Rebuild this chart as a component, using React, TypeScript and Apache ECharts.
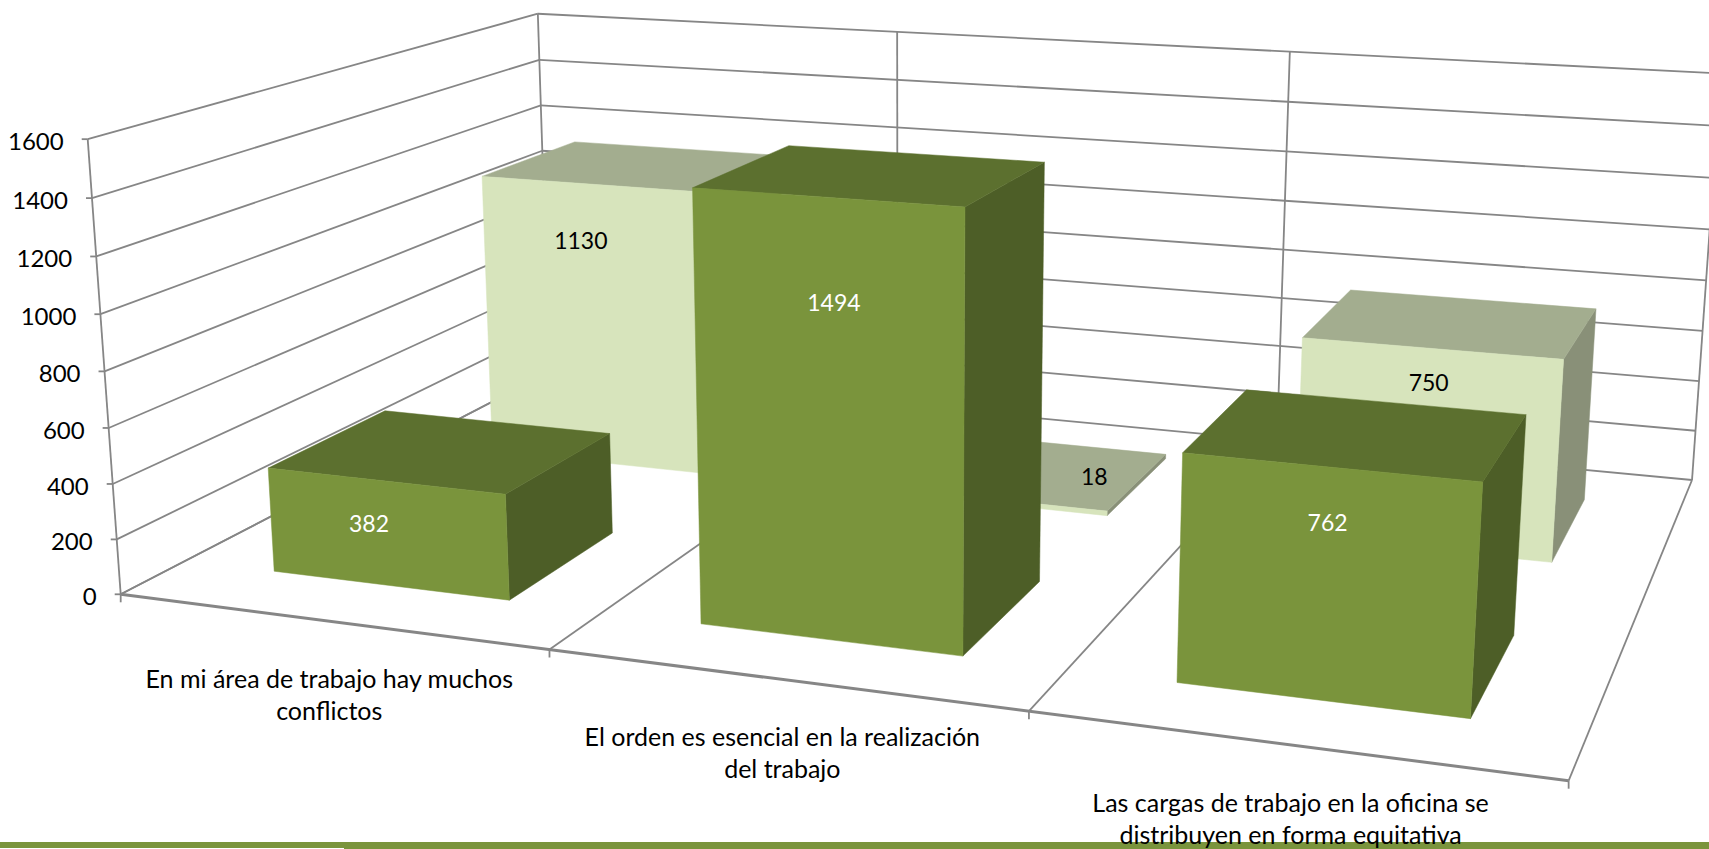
import React, { useEffect, useRef } from "react";
import * as echarts from "echarts";

const categories = [
  "En mi área de trabajo hay muchos\nconflictos",
  "El orden es esencial en la realización\ndel trabajo",
  "Las cargas de trabajo en la oficina se\ndistribuyen en forma equitativa",
];
const frontValues = [382, 1494, 762];
const backValues = [1130, 18, 750];
const yTicks = [0, 200, 400, 600, 800, 1000, 1200, 1400, 1600];
const boundaries = [0, 1, 2, 3];

// Layout constants: perspective of the 3D box (unit cube to page pixels)
const M = {
  a: 1199.2, b: 585.1, p: -36.5, c: 120.7,
  d: 62.6, e: -116.5, q: -460.7, f: 594.3,
  g: -0.15857, h: 0.28444, k: -0.04,
};
const project = (u: number, v: number, t: number): number[] => {
  const w = M.g * u + M.h * v + M.k * t + 1;
  return [
    (M.a * u + M.b * v + M.p * t + M.c) / w,
    (M.d * u + M.e * v + M.q * t + M.f) / w,
  ];
};
const BAR_LO = 0.22;
const BAR_HI = 0.784;
const FRONT_ROW = [0.123, 0.372];
const BACK_ROW = [0.625, 0.875];
const FONT = "Lato";
const GRID = "#868686";
const frontColors = { face: "#7A943C", top: "#5C702F", side: "#4D5E27", text: "#FFFFFF" };
const backColors = { face: "#D7E4BC", top: "#A3AD8F", side: "#899078", text: "#000000" };
const frontLabelOffsets = [[-16, 42.5], [7.4, 105], [-2.5, 55]];
const backLabelOffsets = [[-8, 55.6], [104.8, -23], [-2.4, 34]];
const CATEGORY_SIZE = 25;
const TICK_SIZE = 24;
const DATA_SIZE = 23;

const line = (a: number[], b: number[], width = 1.8, color = GRID) => ({
  type: "line",
  shape: { x1: a[0], y1: a[1], x2: b[0], y2: b[1] },
  style: { stroke: color, lineWidth: width },
});
const poly = (points: number[][], fill: string) => ({
  type: "polygon",
  shape: { points },
  style: { fill, stroke: fill, lineWidth: 0.5 },
});
const label = (text: string, x: number, y: number, fill: string, size: number, align = "center", lineHeight = 32) => ({
  type: "text",
  style: {
    text, x, y, fill, align, verticalAlign: "middle",
    fontFamily: FONT, fontSize: size, lineHeight,
  },
});

// Converts a value pair into (u, t) in the box through the hidden axes
const toBox = (api: any, params: any, x: number, value: number) => {
  const pt = api.coord([x, value]);
  const cs = params.coordSys;
  return { u: (pt[0] - cs.x) / cs.width, t: 1 - (pt[1] - cs.y) / cs.height };
};

const wallItem = (params: any, api: any) => {
  const value = api.value(1);
  const { t } = toBox(api, params, 0, value);
  const front = project(0, 0, t);
  const back = project(0, 1, t);
  const right = project(1, 1, t);
  return {
    type: "group",
    children: [
      line(front, back),
      line(back, right),
      line([front[0] - 6, front[1]], front),
      label(String(value), front[0] - 24, front[1] + 1.5, "#000000", TICK_SIZE, "right"),
    ],
  };
};

const boundaryItem = (params: any, api: any) => {
  const i = api.value(0);
  const { u } = toBox(api, params, i, 0);
  const floorFront = project(u, 0, 0);
  const children: any[] = [
    line(floorFront, project(u, 1, 0)),
    line(project(u, 1, 0), project(u, 1, 1)),
    line(floorFront, [floorFront[0], floorFront[1] + 8]),
  ];
  if (i === 0) {
    children.push(line(floorFront, project(0, 0, 1)));
    children.push(line(floorFront, project(1, 0, 0), 3));
  }
  return { type: "group", children };
};

const categoryItem = (params: any, api: any) => {
  const i = params.dataIndex;
  const { u } = toBox(api, params, i + 0.5, 0);
  const pos = project(u, 0, 0);
  return label(categories[i], pos[0], pos[1] + 73, "#000000", CATEGORY_SIZE);
};

const barItem = (row: number[], colors: any, offsets: number[][]) => (params: any, api: any) => {
  const i = params.dataIndex;
  const value = api.value(1);
  const lo = toBox(api, params, i + BAR_LO, value);
  const hi = toBox(api, params, i + BAR_HI, 0);
  const u0 = lo.u;
  const u1 = hi.u;
  const t = lo.t;
  const [v0, v1] = row;
  const mid = project((u0 + u1) / 2, v0, t);
  const off = offsets[i];
  return {
    type: "group",
    children: [
      poly([project(u1, v0, 0), project(u1, v1, 0), project(u1, v1, t), project(u1, v0, t)], colors.side),
      poly([project(u0, v0, t), project(u1, v0, t), project(u1, v1, t), project(u0, v1, t)], colors.top),
      poly([project(u0, v0, 0), project(u1, v0, 0), project(u1, v0, t), project(u0, v0, t)], colors.face),
      label(String(value), mid[0] + off[0], mid[1] + off[1], colors.text, DATA_SIZE),
    ],
  };
};

export default function App() {
  const ref = useRef<HTMLDivElement>(null);
  useEffect(() => {
    const chart = echarts.init(ref.current!, undefined, { renderer: "svg" });
    const custom = (name: string, renderItem: any, data: any[], z: number) => ({
      type: "custom", name, renderItem, data, z, clip: false, silent: true,
      encode: { x: 0, y: 1 },
    });
    chart.setOption({
      animation: false,
      backgroundColor: "#FFFFFF",
      grid: { left: 0, right: 0, top: 0, bottom: 0 },
      xAxis: { type: "value", min: 0, max: 3, show: false },
      yAxis: { type: "value", min: 0, max: 1600, interval: 200, show: false },
      graphic: [
        {
          type: "rect", z: 0, silent: true,
          shape: { x: 0, y: 842, width: 1709, height: 7 },
          style: { fill: "#7A943C" },
        },
        {
          type: "rect", z: 0, silent: true,
          shape: { x: 0, y: 848, width: 344, height: 1 },
          style: { fill: "#FFFFFF" },
        },
      ],
      series: [
        custom("Paredes", wallItem, yTicks.map((v) => [0, v]), 2),
        custom("Divisiones", boundaryItem, boundaries.map((b) => [b, 0]), 3),
        custom("Categorías", categoryItem, categories.map((_, i) => [i + 0.5, 0]), 4),
        custom("Serie posterior", barItem(BACK_ROW, backColors, backLabelOffsets), backValues.map((v, i) => [i + 0.5, v]), 5),
        custom("Serie frontal", barItem(FRONT_ROW, frontColors, frontLabelOffsets), frontValues.map((v, i) => [i + 0.5, v]), 6),
      ],
    });
    return () => chart.dispose();
  }, []);
  return <div ref={ref} style={{ position: "absolute", left: 0, top: 0, width: 1709, height: 849 }} />;
}
